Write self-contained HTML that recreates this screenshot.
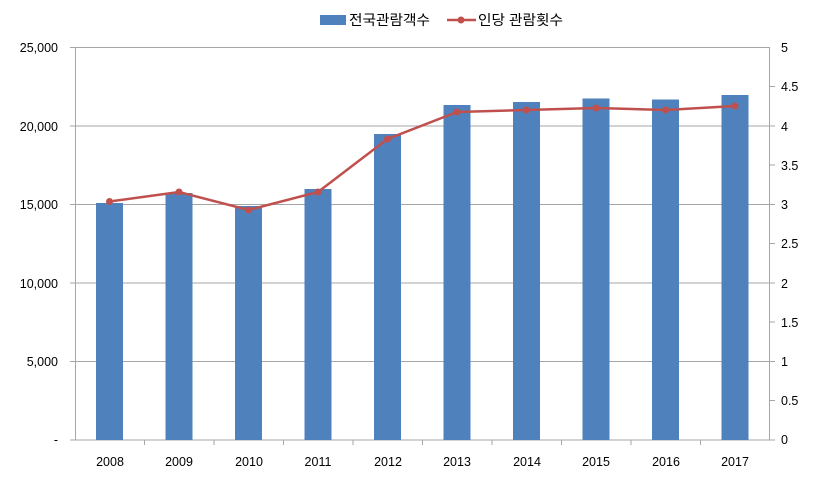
<!DOCTYPE html>
<html><head><meta charset="utf-8"><style>
body{margin:0;background:#fff;}
svg text{font-family:"Liberation Sans","Noto Sans CJK KR",sans-serif;font-size:12.5px;fill:#000;}
svg text.lg{font-size:14px;}
</style></head><body>
<svg width="817" height="483" xmlns="http://www.w3.org/2000/svg">
<rect x="0" y="0" width="817" height="483" fill="#fff"/>
<g stroke="#a6a6a6" stroke-width="1">
<line x1="75" y1="47.5" x2="770" y2="47.5"/>
<line x1="75" y1="126" x2="770" y2="126"/>
<line x1="75" y1="204.5" x2="770" y2="204.5"/>
<line x1="75" y1="283" x2="770" y2="283"/>
<line x1="75" y1="361.5" x2="770" y2="361.5"/>
<line x1="75.5" y1="47" x2="75.5" y2="440"/>
<line x1="769.5" y1="47" x2="769.5" y2="440"/>
<line x1="70" y1="440" x2="775" y2="440"/>
<line x1="70" y1="47.5" x2="75" y2="47.5"/><line x1="70" y1="126" x2="75" y2="126"/><line x1="70" y1="204.5" x2="75" y2="204.5"/><line x1="70" y1="283" x2="75" y2="283"/><line x1="70" y1="361.5" x2="75" y2="361.5"/>
<line x1="770" y1="86.5" x2="775" y2="86.5"/><line x1="770" y1="126" x2="775" y2="126"/><line x1="770" y1="165" x2="775" y2="165"/><line x1="770" y1="204.5" x2="775" y2="204.5"/><line x1="770" y1="243.5" x2="775" y2="243.5"/><line x1="770" y1="283" x2="775" y2="283"/><line x1="770" y1="322" x2="775" y2="322"/><line x1="770" y1="361.5" x2="775" y2="361.5"/><line x1="770" y1="400.5" x2="775" y2="400.5"/>
<line x1="144.5" y1="440" x2="144.5" y2="445"/><line x1="214" y1="440" x2="214" y2="445"/><line x1="283.5" y1="440" x2="283.5" y2="445"/><line x1="353" y1="440" x2="353" y2="445"/><line x1="422.5" y1="440" x2="422.5" y2="445"/><line x1="492" y1="440" x2="492" y2="445"/><line x1="561.5" y1="440" x2="561.5" y2="445"/><line x1="631" y1="440" x2="631" y2="445"/><line x1="700.5" y1="440" x2="700.5" y2="445"/>
</g>
<g fill="#4f81bd">
<rect x="96" y="203" width="27" height="237"/>
<rect x="165.5" y="193" width="27" height="247"/>
<rect x="235" y="206" width="27" height="234"/>
<rect x="304.5" y="189" width="27" height="251"/>
<rect x="374" y="134" width="27" height="306"/>
<rect x="443.5" y="105" width="27" height="335"/>
<rect x="513" y="102" width="27" height="338"/>
<rect x="582.5" y="98.5" width="27" height="341.5"/>
<rect x="652" y="99.5" width="27" height="340.5"/>
<rect x="721.5" y="95" width="27" height="345"/>
</g>
<polyline fill="none" stroke="#c0504d" stroke-width="2.5" points="109.5,201.5 179,192 248.5,210 318,192 387.5,139 457,112 526.5,110 596,108 665.5,110 735,106"/>
<g fill="#c0504d">
<circle cx="109.5" cy="201.5" r="3.5"/><circle cx="179" cy="192" r="3.5"/><circle cx="248.5" cy="210" r="3.5"/><circle cx="318" cy="192" r="3.5"/><circle cx="387.5" cy="139" r="3.5"/><circle cx="457" cy="112" r="3.5"/><circle cx="526.5" cy="110" r="3.5"/><circle cx="596" cy="108" r="3.5"/><circle cx="665.5" cy="110" r="3.5"/><circle cx="735" cy="106" r="3.5"/>
</g>
<g text-anchor="end">
<text x="58" y="52">25,000</text><text x="58" y="131">20,000</text><text x="58" y="209">15,000</text><text x="58" y="288">10,000</text><text x="58" y="366">5,000</text><text x="58" y="444">-</text>
</g>
<g text-anchor="start">
<text x="781" y="52">5</text><text x="781" y="91">4.5</text><text x="781" y="131">4</text><text x="781" y="170">3.5</text><text x="781" y="209">3</text><text x="781" y="248">2.5</text><text x="781" y="288">2</text><text x="781" y="327">1.5</text><text x="781" y="366">1</text><text x="781" y="405">0.5</text><text x="781" y="444">0</text>
</g>
<g text-anchor="middle">
<text x="110" y="466">2008</text><text x="179" y="466">2009</text><text x="249" y="466">2010</text><text x="318" y="466">2011</text><text x="388" y="466">2012</text><text x="457" y="466">2013</text><text x="527" y="466">2014</text><text x="596" y="466">2015</text><text x="666" y="466">2016</text><text x="735" y="466">2017</text>
</g>
<rect x="320" y="15" width="26" height="10" fill="#4f81bd"/>
<text class="lg" x="349" y="25" textLength="81" lengthAdjust="spacingAndGlyphs">전국관람객수</text>
<line x1="447" y1="20" x2="476" y2="20" stroke="#c0504d" stroke-width="2.5"/>
<circle cx="461" cy="20" r="3.5" fill="#c0504d"/>
<text class="lg" x="478" y="25" textLength="85" lengthAdjust="spacingAndGlyphs">인당 관람횟수</text>
</svg>
</body></html>
